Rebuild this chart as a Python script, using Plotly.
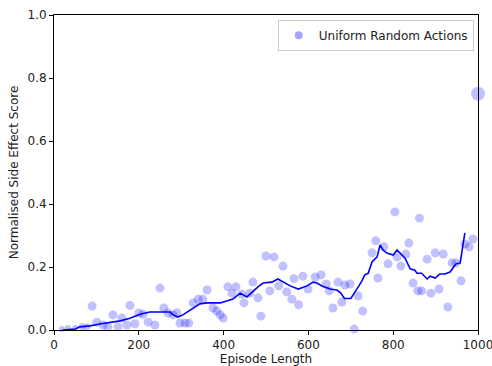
import plotly.graph_objects as go

# Episode length vs. normalised side-effect score, uniform random policy
episode_length = [19, 33, 50, 66, 78, 90, 101, 116, 127, 139, 151, 160, 172, 179, 191,
                  200, 210, 222, 238, 250, 259, 269, 281, 290, 297, 309, 318, 328, 340,
                  351, 361, 375, 384, 392, 399, 410, 420, 429, 443, 448, 462, 469, 481,
                  488, 500, 509, 519, 530, 540, 549, 561, 566, 577, 587, 599, 616, 630,
                  642, 649, 658, 670, 679, 686, 698, 708, 717, 728, 750, 759, 764,
                  778, 788, 804, 809, 818, 830, 837, 847, 858, 862, 867, 880, 889, 899, 908,
                  918, 929, 939, 948, 960, 969, 979, 988, 1000]
side_effect = [0.003, 0.006, 0.006, 0.01, 0.01, 0.076, 0.025, 0.016, 0.01, 0.048, 0.01,
               0.038, 0.016, 0.078, 0.02, 0.054, 0.05, 0.025, 0.016, 0.133, 0.07, 0.054,
               0.048, 0.055, 0.022, 0.022, 0.022, 0.086, 0.098, 0.098, 0.127, 0.07, 0.06,
               0.048, 0.038, 0.137, 0.117, 0.137, 0.114, 0.086, 0.117, 0.152, 0.102,
               0.044, 0.235, 0.124, 0.232, 0.14, 0.203, 0.121, 0.098, 0.163, 0.08,
               0.171, 0.13, 0.168, 0.175, 0.146, 0.124, 0.07, 0.152, 0.089, 0.143,
               0.146, 0.003, 0.108, 0.06, 0.245, 0.283, 0.165, 0.264, 0.21,
               0.375, 0.232, 0.203, 0.241, 0.276, 0.149, 0.124, 0.355, 0.124, 0.225, 0.117,
               0.245, 0.13, 0.241, 0.073, 0.213, 0.213, 0.156, 0.273, 0.264, 0.289, 0.75]
marker_size = [6, 6, 6, 7, 7] + [9] * (len(episode_length) - 6) + [14]

# Running mean of the score
trend_length = [20, 50, 61, 85, 108, 127, 139, 156, 179, 203, 226, 257, 274, 281, 292,
                304, 328, 344, 361, 375, 392, 422, 439, 455, 467, 481, 493, 514, 528,
                540, 557, 576, 597, 611, 620, 632, 651, 667, 676, 685, 700, 712, 726,
                733, 741, 750, 762, 769, 776, 785, 800, 809, 820, 828, 840, 851, 856,
                867, 880, 887, 899, 910, 922, 934, 941, 948, 958, 969]
trend_score = [0.0, 0.003, 0.01, 0.013, 0.019, 0.022, 0.025, 0.029, 0.037, 0.05, 0.057,
               0.057, 0.057, 0.048, 0.041, 0.048, 0.07, 0.083, 0.086, 0.086, 0.086,
               0.098, 0.117, 0.105, 0.121, 0.137, 0.149, 0.152, 0.162, 0.152, 0.14,
               0.13, 0.14, 0.152, 0.149, 0.14, 0.13, 0.127, 0.118, 0.1, 0.1, 0.125,
               0.155, 0.175, 0.18, 0.216, 0.232, 0.27, 0.254, 0.244, 0.238, 0.254,
               0.238, 0.228, 0.194, 0.19, 0.18, 0.18, 0.162, 0.171, 0.165, 0.178,
               0.178, 0.184, 0.197, 0.21, 0.213, 0.308]

POINT_COLOR = "rgba(0,0,255,0.35)"
FONT = dict(family="DejaVu Sans", size=12, color="#222")

fig = go.Figure()
fig.add_trace(go.Scatter(
    x=episode_length, y=side_effect, mode="markers", showlegend=False,
    cliponaxis=False,
    marker=dict(size=marker_size, color=POINT_COLOR, line=dict(width=0)),
))
fig.add_trace(go.Scatter(
    x=trend_length, y=trend_score, mode="lines", showlegend=False,
    line=dict(color="#0000ff", width=1.6),
))
# legend entry with a uniform marker size
fig.add_trace(go.Scatter(
    x=[None], y=[None], mode="markers", name="Uniform Random Actions",
    marker=dict(size=8, color=POINT_COLOR, line=dict(width=0)),
))

axis_common = dict(
    showgrid=False, zeroline=False, showline=True, linecolor="black", linewidth=1,
    mirror=True, ticks="outside", ticklen=4, tickcolor="black",
    tickfont=FONT, automargin=False, ticklabeloverflow="allow",
)
fig.update_xaxes(range=[0, 1000], tickvals=[0, 200, 400, 600, 800, 1000],
                 title=dict(text="Episode Length", font=FONT, standoff=3),
                 **axis_common)
fig.update_yaxes(range=[0, 1.0], tickvals=[0, 0.2, 0.4, 0.6, 0.8, 1.0],
                 tickformat=".1f",
                 title=dict(text="Normalised Side Effect Score", font=FONT, standoff=6),
                 **axis_common)

fig.update_layout(
    width=492, height=366,
    margin=dict(l=54, r=14, t=15, b=36),
    paper_bgcolor="white", plot_bgcolor="white",
    legend=dict(x=0.99, y=0.985, xanchor="right", yanchor="top",
                bgcolor="rgba(255,255,255,0.8)", bordercolor="#cccccc", borderwidth=1,
                font=FONT, tracegroupgap=0),
)

fig.write_html("out.html")
